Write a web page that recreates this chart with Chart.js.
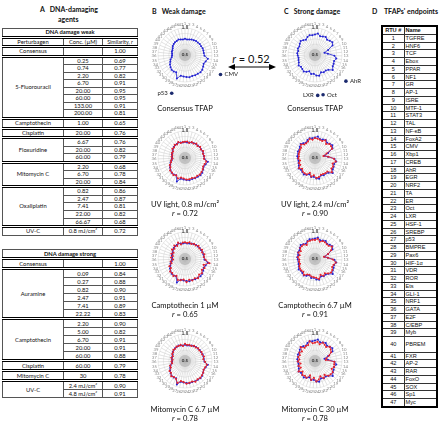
<!DOCTYPE html>
<html>
<head>
<meta charset="utf-8">
<script src="https://cdn.jsdelivr.net/npm/chart.js@4.4.1/dist/chart.umd.min.js"></script>
<style>
  body { margin:0; width:440px; height:424px; position:relative; overflow:hidden; background:#fff; font-family:Lato, "Open Sans", sans-serif; color:#111; }
  .txt { position:absolute; white-space:nowrap; }
  .ttl { font-weight:bold; font-size:7px; line-height:9px; }
  .cap { position:absolute; width:140px; text-align:center; font-size:7.6px; line-height:9px; color:#111; }
  canvas { position:absolute; }
  table { position:absolute; border-collapse:collapse; table-layout:fixed; }
  .ta { left:2px; width:135px; font-size:5.8px; }
  .ta td { border:1px solid #555; padding:0; height:7px; line-height:7px; text-align:center; overflow:hidden; white-space:nowrap; }
  .ta tr.grp td { border-top:3px double #000; }
  .ta td.head { font-weight:bold; }
  .ta td.sm { font-size:5.3px; }
  #tabWeak td { height:6.55px; line-height:6.55px; }
  .tdd { left:381px; top:25px; width:55px; font-family:"Liberation Sans", Arial, sans-serif; font-size:5.6px; border:2px solid #000; }
  .tdd td { border:1px solid #333; padding:0 0 0 1px; height:6.75px; line-height:6.75px; overflow:hidden; white-space:nowrap; }
  .tdd td.n { text-align:center; padding:0; }
</style>
</head>
<body>

<div class="txt ttl" style="left:40px;top:5px">A&nbsp;&nbsp;&nbsp;DNA-damaging</div>
<div class="txt ttl" style="left:58px;top:15px">agents</div>
<div class="txt ttl" style="left:152px;top:7px">B&nbsp;&nbsp;&nbsp;Weak damage</div>
<div class="txt ttl" style="left:284px;top:7px">C&nbsp;&nbsp;&nbsp;Strong damage</div>
<div class="txt ttl" style="left:372px;top:7px">D&nbsp;&nbsp;&nbsp;&nbsp;TFAPs' endpoints</div>

<div class="txt" style="left:228px;top:52px;font-size:11px;width:46px;text-align:center"><i>r</i> = 0.52</div>
<svg style="position:absolute;left:228px;top:62px" width="48" height="10">
  <line x1="4" y1="5" x2="44" y2="5" stroke="#000" stroke-width="1"/>
  <polygon points="0,5 7,2 7,8" fill="#000"/>
  <polygon points="48,5 41,2 41,8" fill="#000"/>
</svg>

<table id="tabWeak" class="ta" style="top:28px"></table>
<table id="tabStrong" class="ta" style="top:249px"></table>
<table id="tabRtu" class="tdd"></table>

<script>
// TFAP endpoints (panel D), RTU # = position + 1
const tfapNames = ['TGFRE','HNF6','TCF','Ebox','PPAR','NF1','GR','AP-1','ISRE','MTF-1',
  'STAT3','TAL','NF-κB','FoxA2','CMV','Xbp1','CREB','AhR','EGR','NRF2',
  'TA','ER','Oct','LXR','HSF-1','SREBP','p53','BMPRE','Pax6','HIF-1α',
  'VDR','ROR','Ets','GLI-1','NRF1','GATA','E2F','C/EBP','Myb','PBREM',
  'FXR','AP-2','RAR','FoxO','SOX','Sp1','Myc']
const rtuLabels = tfapNames.map((n, i) => String(i + 1))

// panel A - DNA damage weak
const weakAgent = ['Consensus',
  '5-Fluorouracil','5-Fluorouracil','5-Fluorouracil','5-Fluorouracil','5-Fluorouracil','5-Fluorouracil','5-Fluorouracil','5-Fluorouracil',
  'Camptothecin','Cisplatin','Floxuridine','Floxuridine','Floxuridine',
  'Mitomycin C','Mitomycin C','Mitomycin C',
  'Oxaliplatin','Oxaliplatin','Oxaliplatin','Oxaliplatin','Oxaliplatin','UV-C']
const weakConc = ['','0.25','0.74','2.20','6.70','20.00','60.00','133.00','200.00',
  '1.00','20.00','6.67','20.00','60.00','2.20','6.70','20.00',
  '0.82','2.47','7.41','22.00','66.67','0.8 mJ/cm²']
const weakSim = ['1.00','0.69','0.77','0.82','0.91','0.95','0.95','0.91','0.81',
  '0.65','0.76','0.76','0.82','0.79','0.68','0.78','0.84',
  '0.86','0.87','0.81','0.82','0.68','0.72']

// panel A - DNA damage strong
const strongAgent = ['Consensus',
  'Auramine','Auramine','Auramine','Auramine','Auramine','Auramine',
  'Camptothecin','Camptothecin','Camptothecin','Camptothecin','Camptothecin',
  'Cisplatin','Mitomycin C','UV-C','UV-C']
const strongConc = ['','0.09','0.27','0.82','2.47','7.41','22.22',
  '2.20','5.00','6.70','20.00','60.00','60.00','30','2.4 mJ/cm²','4.8 mJ/cm²']
const strongSim = ['1.00','0.84','0.88','0.90','0.91','0.89','0.83',
  '0.90','0.82','0.91','0.91','0.88','0.79','0.78','0.90','0.91']

// radar values, RTU 1..47
const consensusWeak = [.80,.79,.80,.81,.82,.83,.83,.84,.84,.85,.85,.85,.86,.93,.90,.88,.90,.92,.93,.92,
  .92,.91,.92,.91,.90,.89,.96,.86,.87,.87,.85,.83,.80,.78,.75,.74,.74,.75,.75,.76,.78,.79,.80,.80,.81,.80,.79]
const consensusStrong = [.88,.90,.86,.87,.89,.86,.88,.90,.87,.76,.68,.74,.86,.90,.87,.88,.89,.93,.87,.85,
  .86,.84,.89,.88,.85,.86,.82,.85,.87,.85,.84,.86,.83,.82,.81,.82,.83,.82,.84,.83,.85,.87,.85,.83,.86,.88,.87]
const uvWeak = [.80,.81,.79,.82,.81,.84,.82,.85,.83,.86,.84,.86,.85,.90,.88,.87,.89,.90,.91,.90,
  .91,.89,.90,.90,.88,.87,.90,.86,.88,.86,.86,.82,.81,.77,.76,.73,.75,.74,.76,.75,.79,.78,.81,.79,.82,.79,.80]
const camptoWeak = [.81,.80,.82,.80,.83,.82,.85,.83,.86,.84,.87,.85,.88,.96,.86,.90,.87,.91,.89,.93,
  .90,.92,.89,.93,.88,.90,.91,.85,.88,.85,.86,.81,.82,.76,.77,.72,.76,.73,.77,.74,.80,.77,.82,.78,.83,.78,.81]
const mitoWeak = [.82,.80,.81,.80,.83,.82,.84,.83,.85,.84,.86,.84,.87,.91,.89,.88,.90,.91,.92,.91,
  .93,.90,.91,.92,.89,.88,.93,.87,.86,.88,.84,.84,.79,.79,.74,.75,.73,.76,.74,.77,.77,.80,.79,.81,.80,.81,.78]
const uvStrong = [.87,.86,.85,.84,.88,.83,.87,.87,.86,.73,.66,.75,.85,.89,.84,.87,.86,.91,.84,.84,
  .83,.83,.86,.87,.82,.85,.79,.84,.84,.84,.81,.85,.80,.81,.78,.81,.80,.81,.81,.82,.82,.86,.82,.82,.83,.87,.84]
const camptoStrong = [.85,.88,.83,.86,.86,.85,.85,.89,.84,.76,.67,.74,.83,.89,.86,.85,.88,.89,.86,.82,
  .85,.81,.88,.85,.84,.83,.81,.82,.86,.82,.83,.83,.82,.79,.80,.79,.82,.79,.83,.80,.84,.84,.84,.80,.85,.85,.86]
const mitoStrong = [.84,.86,.82,.87,.85,.83,.88,.86,.84,.78,.72,.70,.86,.86,.87,.84,.89,.88,.87,.81,
  .86,.80,.85,.88,.81,.86,.78,.85,.83,.85,.80,.86,.79,.82,.77,.82,.79,.82,.80,.83,.80,.87,.81,.83,.82,.88,.83]

// tabela A
function buildAgents(id, title, agent, conc, sim, withHeader) {
  let html = '<colgroup><col style="width:61px"><col style="width:39px"><col style="width:35px"></colgroup>'
  html += `<tr><td colspan="3" class="head">${title}</td></tr>`
  if (withHeader)
    html += '<tr class="grp"><td>Perturbagen</td><td>Conc. (µM)</td><td class="sm">Similarity, <i>r</i></td></tr>'
  for (let i = 0; i < agent.length; i++) {
    const first = i === 0 || agent[i] !== agent[i - 1]
    let span = 1
    if (first) while (agent[i + span] === agent[i]) span++
    html += `<tr class="${first ? 'grp' : ''}">`
    if (first) html += `<td rowspan="${span}">${agent[i]}</td>`
    html += `<td>${conc[i]}</td><td>${sim[i]}</td></tr>`
  }
  document.getElementById(id).innerHTML = html
}
buildAgents('tabWeak', 'DNA damage weak', weakAgent, weakConc, weakSim, true)
buildAgents('tabStrong', 'DNA damage strong', strongAgent, strongConc, strongSim, false)

// tabela D
let rtuHtml = '<colgroup><col style="width:22px"><col style="width:33px"></colgroup>'
rtuHtml += '<tr><td class="n" style="font-weight:bold">RTU #</td><td style="font-weight:bold">Name</td></tr>'
tfapNames.forEach((name, i) => {
  const h = name === 'PBREM' ? 'height:14.5px' : ''
  rtuHtml += `<tr><td class="n" style="${h}">${rtuLabels[i]}</td><td style="${h}">${name}</td></tr>`
})
document.getElementById('tabRtu').innerHTML = rtuHtml

// radar charts
const colX = [185, 315]
const rowY = [55, 158, 259, 361]
const capY = [104, 200, 301, 405]

// notes: [posição angular (índice do RTU), texto, lado do texto]
const radars = [
  { col:0, row:0, red:null, blue:consensusWeak, cap:['Consensus TFAP'], notes:[[15.5,'CMV','r'],[26,'p53','l']] },
  { col:1, row:0, red:null, blue:consensusStrong, cap:['Consensus TFAP'], notes:[[17,'AhR','r'],[22,'Oct','r'],[23,'LXR','l']] },
  { col:0, row:1, red:uvWeak, blue:consensusWeak, cap:['UV light, 0.8 mJ/cm²','<i>r</i> = 0.72'] },
  { col:1, row:1, red:uvStrong, blue:consensusStrong, cap:['UV light, 2.4 mJ/cm²','<i>r</i> = 0.90'] },
  { col:0, row:2, red:camptoWeak, blue:consensusWeak, cap:['Camptothecin 1 µM','<i>r</i> = 0.65'] },
  { col:1, row:2, red:camptoStrong, blue:consensusStrong, cap:['Camptothecin 6.7 µM','<i>r</i> = 0.91'] },
  { col:0, row:3, red:mitoWeak, blue:consensusWeak, cap:['Mitomycin C 6.7 µM','<i>r</i> = 0.78'] },
  { col:1, row:3, red:mitoStrong, blue:consensusStrong, cap:['Mitomycin C 30 µM','<i>r</i> = 0.78'] },
]

const BLUE = '#2323d2'
const RED = '#e3232b'

// centro cinza com "0.5" e os números dos RTU em volta
const radarDecor = {
  id: 'radarDecor',
  beforeDatasetsDraw(chart) {
    const s = chart.scales.r
    const ctx = chart.ctx
    ctx.save()
    ctx.fillStyle = 'rgba(150,150,150,0.35)'
    ctx.beginPath()
    ctx.arc(s.xCenter, s.yCenter, 6, 0, Math.PI * 2)
    ctx.fill()
    ctx.font = 'bold 4.5px Lato, sans-serif'
    ctx.fillStyle = '#333'
    ctx.textAlign = 'center'
    ctx.textBaseline = 'middle'
    ctx.fillText('0.5', s.xCenter, s.yCenter)
    ctx.font = '4.3px Lato, sans-serif'
    ctx.fillStyle = '#8c8c8c'
    chart.data.labels.forEach((lab, i) => {
      const p = s.getPointPosition(i, s.drawingArea + 4)
      ctx.fillText(lab, p.x, p.y)
    })
    ctx.restore()
  }
}

// pontos de destaque fora do radar (CMV, p53, AhR...)
const tfapNotes = {
  id: 'tfapNotes',
  afterDraw(chart, args, opts) {
    if (!opts.notes) return
    const s = chart.scales.r
    const ctx = chart.ctx
    ctx.save()
    ctx.font = '6px Lato, sans-serif'
    ctx.textBaseline = 'middle'
    opts.notes.forEach(([idx, text, side]) => {
      const p = s.getPointPosition(idx, s.drawingArea * 1.5)
      ctx.fillStyle = '#1b2a6e'
      ctx.beginPath()
      ctx.arc(p.x, p.y, 1.8, 0, Math.PI * 2)
      ctx.fill()
      ctx.fillStyle = '#222'
      ctx.textAlign = side === 'r' ? 'left' : 'right'
      ctx.fillText(text, p.x + (side === 'r' ? 4 : -4), p.y)
    })
    ctx.restore()
  }
}

function ds(values, color) {
  return {
    data: values,
    borderColor: color,
    backgroundColor: 'transparent',
    pointBackgroundColor: color,
    pointBorderWidth: 0,
    pointRadius: 1,
    borderWidth: 0.8,
    fill: false
  }
}

radars.forEach(r => {
  const cx = colX[r.col], cy = rowY[r.row]
  const cv = document.createElement('canvas')
  cv.width = 140
  cv.height = 104
  cv.style.left = (cx - 70) + 'px'
  cv.style.top = (cy - 52) + 'px'
  document.body.appendChild(cv)

  const datasets = []
  if (r.red) datasets.push(ds(r.red, RED))
  datasets.push(ds(r.blue, BLUE))

  new Chart(cv, {
    type: 'radar',
    data: { labels: rtuLabels, datasets },
    options: {
      responsive: false,
      animation: false,
      devicePixelRatio: 1,
      layout: { padding: { left: 38, right: 38, top: 20, bottom: 20 } },
      plugins: { legend: { display: false }, tooltip: { enabled: false }, tfapNotes: { notes: r.notes } },
      scales: {
        r: {
          min: 0.5,
          max: 1,
          ticks: { stepSize: 0.1, showLabelBackdrop: false, color: '#333', font: { size: 4.5, weight: 'bold' },
            callback: v => v === 1 ? '1.0' : '' },
          grid: { circular: true, color: '#d6d6d6', lineWidth: 0.5 },
          angleLines: { color: '#c4c4c4', lineWidth: 0.5 },
          pointLabels: { display: false }
        }
      }
    },
    plugins: [radarDecor, tfapNotes]
  })

  r.cap.forEach((line, k) => {
    const d = document.createElement('div')
    d.className = 'cap'
    d.style.left = (cx - 70) + 'px'
    d.style.top = (capY[r.row] + k * 9) + 'px'
    d.innerHTML = line
    document.body.appendChild(d)
  })
})
</script>
</body>
</html>
